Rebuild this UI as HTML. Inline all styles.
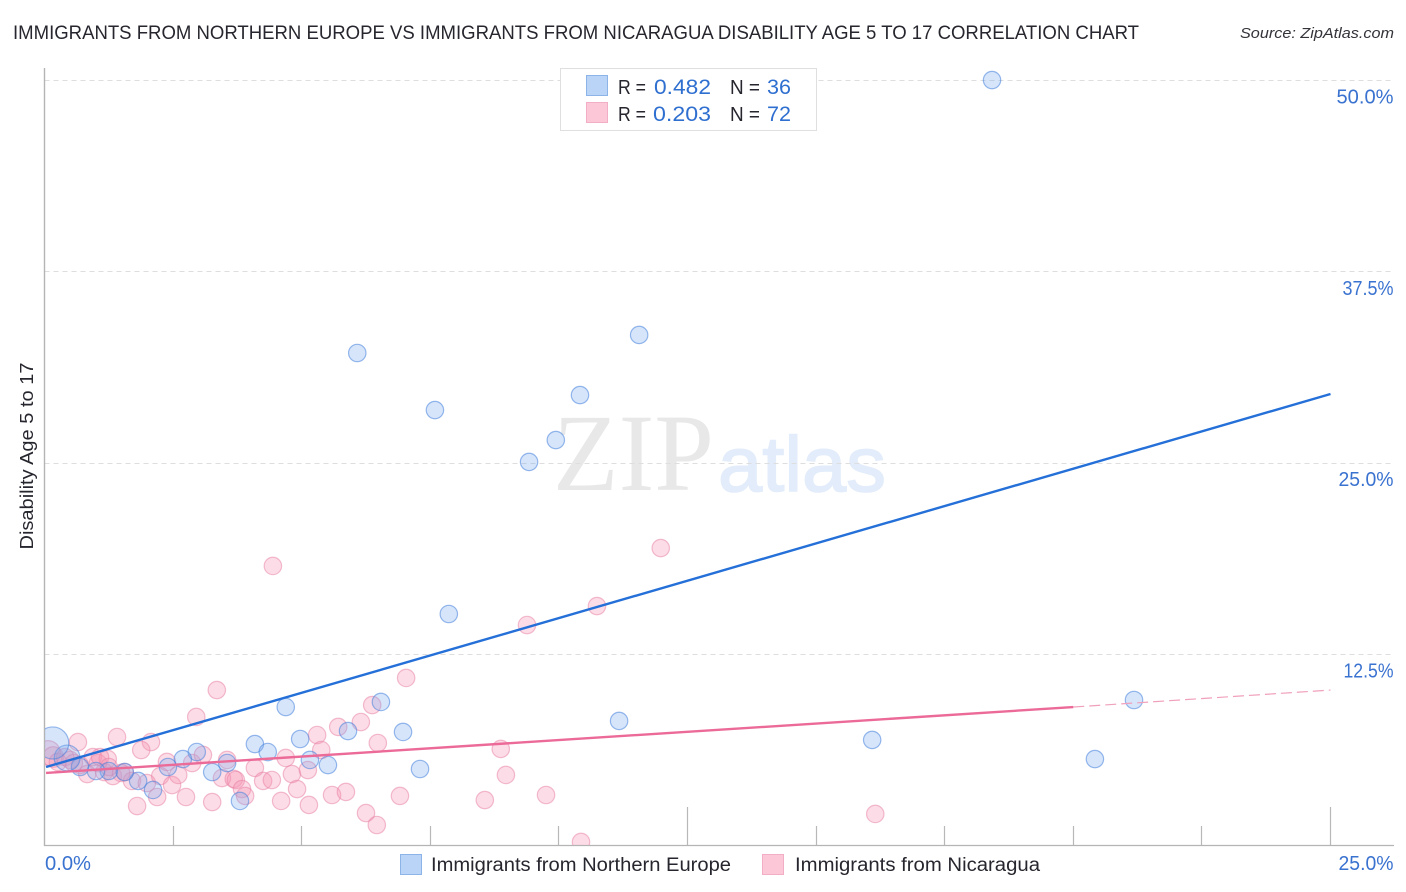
<!DOCTYPE html>
<html lang="en">
<head>
<meta charset="utf-8">
<title>Immigrants from Northern Europe vs Immigrants from Nicaragua Disability Age 5 to 17 Correlation Chart</title>
<style>
html,body{margin:0;padding:0;background:#fff;width:1406px;height:892px;overflow:hidden}
svg{display:block;font-family:"Liberation Sans",sans-serif}
</style>
</head>
<body>
<svg id="chart" width="1406" height="892" viewBox="0 0 1406 892">
  <text x="13" y="39" font-size="19" fill="#26262e" textLength="1126" lengthAdjust="spacingAndGlyphs">IMMIGRANTS FROM NORTHERN EUROPE VS IMMIGRANTS FROM NICARAGUA DISABILITY AGE 5 TO 17 CORRELATION CHART</text>
  <text x="1394" y="38" font-size="15" font-style="italic" fill="#33333a" text-anchor="end" textLength="154" lengthAdjust="spacingAndGlyphs">Source: ZipAtlas.com</text>

  <g id="watermark">
    <text x="553" y="490" font-family="'Liberation Serif',serif" font-size="110" fill="#e8e8e8" textLength="161" lengthAdjust="spacingAndGlyphs">ZIP</text>
    <text x="718" y="491" font-size="78" fill="#e2ecfa" stroke="#e2ecfa" stroke-width="1.5" textLength="168" lengthAdjust="spacingAndGlyphs">atlas</text>
  </g>

  <g id="grid"></g>
  <g id="axes"></g>
  <g id="marks" clip-path="url(#plot-clip)"></g>
  <g id="trends"></g>
  <g id="tick-labels"></g>

  <defs>
    <clipPath id="plot-clip"><rect x="45" y="60" width="1349" height="785"></rect></clipPath>
  </defs>

  <text transform="translate(33,456) rotate(-90)" font-size="18" fill="#26262e" text-anchor="middle" textLength="187" lengthAdjust="spacingAndGlyphs">Disability Age 5 to 17</text>

  <g>
    <rect x="560.5" y="68.5" width="256" height="62" fill="#fff" stroke="#dfdfdf"></rect>
    <rect x="586.5" y="75.5" width="21" height="20" fill="#b9d4f7" stroke="#8db4e8"></rect>
    <rect x="586.5" y="102.5" width="21" height="20" fill="#fcc8d8" stroke="#f2aec5"></rect>
    <g font-size="20" fill="#26262e">
      <text x="618" y="94" textLength="28" lengthAdjust="spacingAndGlyphs">R =</text>
      <text x="654" y="94" fill="#2f6fd0" font-size="21" textLength="57" lengthAdjust="spacingAndGlyphs">0.482</text>
      <text x="730" y="94" textLength="30" lengthAdjust="spacingAndGlyphs">N =</text>
      <text x="767" y="94" fill="#2f6fd0" font-size="21" textLength="24" lengthAdjust="spacingAndGlyphs">36</text>
      <text x="618" y="121" textLength="28" lengthAdjust="spacingAndGlyphs">R =</text>
      <text x="653" y="121" fill="#2f6fd0" font-size="21" textLength="58" lengthAdjust="spacingAndGlyphs">0.203</text>
      <text x="730" y="121" textLength="30" lengthAdjust="spacingAndGlyphs">N =</text>
      <text x="767" y="121" fill="#2f6fd0" font-size="21" textLength="24" lengthAdjust="spacingAndGlyphs">72</text>
    </g>
  </g>

  <g>
    <rect x="400.5" y="854.5" width="21" height="20" fill="#b9d4f7" stroke="#8db4e8"></rect>
    <text x="431" y="871" font-size="19" fill="#26262e" textLength="300" lengthAdjust="spacingAndGlyphs">Immigrants from Northern Europe</text>
    <rect x="762.5" y="854.5" width="21" height="20" fill="#fcc8d8" stroke="#f2aec5"></rect>
    <text x="795" y="871" font-size="19" fill="#26262e" textLength="245" lengthAdjust="spacingAndGlyphs">Immigrants from Nicaragua</text>
  </g>
</svg>

<script>
const yTickValues = [12.5, 25, 37.5, 50];
const yTickLabels = ["12.5%", "25.0%", "37.5%", "50.0%"];
const xTickValues = [2.5, 5, 7.5, 10, 12.5, 15, 17.5, 20, 22.5, 25];
const xMajorTicks = [12.5, 25];
const xEndLabels = ["0.0%", "25.0%"];

const northernX = [18.42,6.08,11.56,7.59,10.41,9.94,9.42,7.86,21.18,4.69,6.54,11.17,6.97,5.90,4.09,4.97,16.09,20.42,4.34,2.96,2.69,5.16,5.51,7.30,3.55,3.26,3.80,2.40,1.82,2.11,1.56,1.25,1.00,0.69,0.44,0.16];
const northernY = [50.03,32.19,33.37,28.46,29.44,26.50,25.07,15.13,9.51,9.05,9.38,8.14,7.42,7.48,6.63,6.96,6.90,5.65,6.11,6.11,5.65,5.59,5.26,5.00,5.39,4.80,2.91,5.13,4.22,3.63,4.80,4.87,4.87,5.13,5.72,6.70];
const northernWeight = [1,1,1,1,1,1,1,1,1,1,1,1,1,1,1,1,1,1,1,1,1,1,1,1,1,1,1,1,1,1,1,1,1,1,2.2,3.4];

const nicaraguaX = [3.35,2.95,2.07,1.88,1.41,0.65,0.94,1.23,0.07,0.17,0.26,1.04,0.69,0.83,1.16,1.33,1.56,1.70,1.80,1.99,2.19,2.25,2.38,2.48,2.60,2.75,2.87,3.08,3.26,3.45,3.55,3.68,3.72,3.84,3.90,4.09,4.25,4.42,4.60,4.69,4.81,4.91,5.12,5.14,5.30,5.38,5.59,5.86,5.71,6.15,6.37,6.48,6.25,6.46,6.91,8.56,8.87,8.97,9.75,10.43,9.38,10.74,11.98,4.44,7.03,16.15,0.50,0.40,0.57,1.08,1.49,1.25];
const nicaraguaY = [10.16,8.40,6.76,6.24,7.09,6.76,5.78,5.65,6.05,5.78,5.46,5.39,5.26,4.67,4.80,4.54,4.80,4.22,2.58,4.08,3.17,4.54,5.46,3.95,4.61,3.17,5.39,5.92,2.84,4.41,5.59,4.35,4.28,3.69,3.24,5.07,4.22,4.28,2.91,5.72,4.67,3.69,4.93,2.65,7.22,6.24,3.30,3.50,7.75,8.07,9.18,6.70,2.12,1.34,3.24,2.97,6.31,4.61,3.30,0.23,14.41,15.65,19.44,18.27,10.95,2.06,5.59,5.78,5.39,5.78,4.74,5.13];
const nicaraguaWeight = [1,1,1,1,1,1,1,1,2,1.4,1,1,1,1,1,1,1,1,1,1,1,1,1,1,1,1,1,1,1,1,1,1,1,1,1,1,1,1,1,1,1,1,1,1,1,1,1,1,1,1,1,1,1,1,1,1,1,1,1,1,1,1,1,1,1,1,1,1,1,1,1,1];

const northernTrendX = [0.03, 25];
const northernTrendY = [5.13, 29.51];
const nicaraguaTrendX = [0.03, 20];
const nicaraguaTrendY = [4.74, 9.05];
const nicaraguaDashX = [20, 25];
const nicaraguaDashY = [9.05, 10.16];

const NS = "http://www.w3.org/2000/svg";
function xScale(v) { return 44.5 + v * (1330.5 - 44.5) / 25; }
function yScale(v) { return 845.5 - v * 15.3; }
function rScale(w) { return 8.7 * Math.sqrt(w); }

function make(tag, attrs, parent) {
  const el = document.createElementNS(NS, tag);
  for (const k in attrs) el.setAttribute(k, attrs[k]);
  parent.appendChild(el);
  return el;
}

function labelWidth(s) {
  let w = 0;
  for (const ch of s) {
    if (ch === ".") w += 5;
    else if (ch === "%") w += 19;
    else if (ch === "1") w += 6;
    else if (ch === "7") w += 5;
    else if (ch === "2") w += 9;
    else w += 11;
  }
  return w;
}

const grid = document.getElementById("grid");
const axes = document.getElementById("axes");
const marks = document.getElementById("marks");
const trends = document.getElementById("trends");
const labels = document.getElementById("tick-labels");

yTickValues.forEach(function (v, i) {
  const y = Math.floor(yScale(v)) + 0.5;
  const line = make("line", {x1: 44.5, x2: 1394, y1: y, y2: y, stroke: "#dedede", "stroke-width": 1, "stroke-dasharray": "5 4"}, grid);
  
  
  const t = make("text", {x: 1393.5, y: yScale(v) + 23, "font-size": 20, fill: "#3a72d0", "text-anchor": "end", textLength: labelWidth(yTickLabels[i]), lengthAdjust: "spacingAndGlyphs"}, labels);
  t.textContent = yTickLabels[i];
  
  
});

const yAxis = make("line", {x1: 44.5, x2: 44.5, y1: 68, y2: 846, stroke: "#b4b4b4", "stroke-width": 1.4}, axes);


const xAxis = make("line", {x1: 44, x2: 1394, y1: 845.5, y2: 845.5, stroke: "#b4b4b4", "stroke-width": 1.2}, axes);



xTickValues.forEach(function (v) {
  const x = Math.floor(xScale(v)) + 0.5;
  const top = xMajorTicks.indexOf(v) >= 0 ? 807 : 826;
  const tick = make("line", {x1: x, x2: x, y1: top, y2: 845, stroke: "#b8b8b8", "stroke-width": 1.2}, axes);
  
  
});

const xLabelLeft = make("text", {x: 45, y: 870, "font-size": 20, fill: "#3a72d0", textLength: labelWidth(xEndLabels[0]), lengthAdjust: "spacingAndGlyphs"}, labels);
xLabelLeft.textContent = xEndLabels[0];


const xLabelRight = make("text", {x: 1393.5, y: 870, "font-size": 20, fill: "#3a72d0", "text-anchor": "end", textLength: labelWidth(xEndLabels[1]), lengthAdjust: "spacingAndGlyphs"}, labels);
xLabelRight.textContent = xEndLabels[1];



nicaraguaX.forEach(function (v, i) {
  const c = make("circle", {cx: xScale(v), cy: yScale(nicaraguaY[i]), r: rScale(nicaraguaWeight[i]), fill: "rgba(246,150,180,0.33)", stroke: "rgba(232,130,165,0.52)", "stroke-width": 1.2}, marks);
  
  
});
northernX.forEach(function (v, i) {
  const c = make("circle", {cx: xScale(v), cy: yScale(northernY[i]), r: rScale(northernWeight[i]), fill: "rgba(120,170,240,0.30)", stroke: "rgba(70,130,220,0.55)", "stroke-width": 1.2}, marks);
  
  
});

const dashLine = make("line", {x1: xScale(nicaraguaDashX[0]), y1: yScale(nicaraguaDashY[0]), x2: xScale(nicaraguaDashX[1]), y2: yScale(nicaraguaDashY[1]), stroke: "#f0a0bc", "stroke-width": 1.2, "stroke-dasharray": "11 5"}, trends);


const blueLine = make("line", {x1: xScale(northernTrendX[0]), y1: yScale(northernTrendY[0]), x2: xScale(northernTrendX[1]), y2: yScale(northernTrendY[1]), stroke: "#2470d8", "stroke-width": 2.4}, trends);


const pinkLine = make("line", {x1: xScale(nicaraguaTrendX[0]), y1: yScale(nicaraguaTrendY[0]), x2: xScale(nicaraguaTrendX[1]), y2: yScale(nicaraguaTrendY[1]), stroke: "#ec6a98", "stroke-width": 2.4}, trends);


</script>
</body>
</html>
